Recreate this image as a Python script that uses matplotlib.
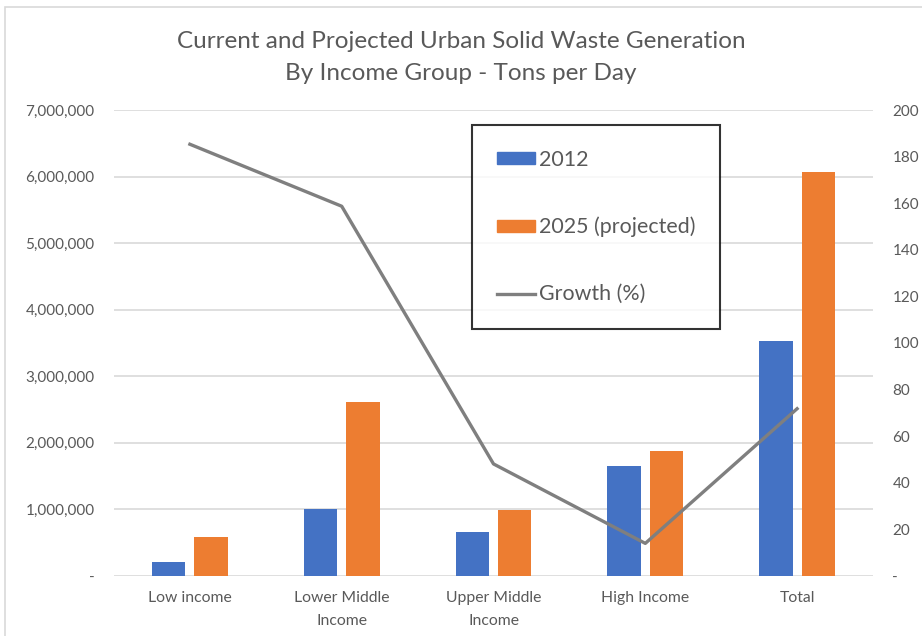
import matplotlib
matplotlib.use("Agg")
import matplotlib.pyplot as plt
import numpy as np
from matplotlib.patches import Rectangle, Patch
from matplotlib.lines import Line2D
from matplotlib.ticker import FuncFormatter

plt.rcParams['font.family'] = ['Lato', 'DejaVu Sans']

# data
categories = ["Low income", "Lower Middle\nIncome", "Upper Middle\nIncome", "High Income", "Total"]
tons_2012 = [204802, 1012321, 665000, 1650000, 3532252]
tons_2025 = [584272, 2618804, 985000, 1880000, 6069703]
growth_pct = [185.3, 158.7, 48.1, 14.0, 71.8]

blue = "#4472C4"
orange = "#ED7D31"
grey = "#7F7F7F"
text_grey = "#595959"
grid_grey = "#D9D9D9"

W, H = 922, 636
fig = plt.figure(figsize=(W / 100, H / 100), dpi=100)

# chart border
fig.patches.append(Rectangle((5 / W, -0.01), 1.02, 1 - 7 / H + 0.01, transform=fig.transFigure,
                             fill=False, edgecolor=grid_grey, linewidth=1.2, zorder=0))

left, right = 114 / W, 873 / W
bottom, top = 1 - 576 / H, 1 - 110 / H
ax = fig.add_axes([left, bottom, right - left, top - bottom])
ax2 = ax.twinx()

x = np.arange(len(categories))
bw = 0.22
ax.bar(x - 0.14, tons_2012, bw, color=blue, zorder=2)
ax.bar(x + 0.14, tons_2025, bw, color=orange, zorder=2)
ax2.plot(x, growth_pct, color=grey, linewidth=2.4, solid_joinstyle='round', zorder=3)

ax.set_xlim(-0.5, len(categories) - 0.5)
ax.set_ylim(0, 7000000)
ax2.set_ylim(0, 200)
ax.set_yticks(np.arange(0, 7000001, 1000000))
ax2.set_yticks(np.arange(0, 201, 20))


def acct(v, pos):
    return "-" if v == 0 else f"{v:,.0f}"


ax.yaxis.set_major_formatter(FuncFormatter(acct))
ax2.yaxis.set_major_formatter(FuncFormatter(acct))

ax.set_xticks(x)
ax.set_xticklabels(categories, linespacing=1.75)
ax.tick_params(axis='x', length=0, pad=11, labelsize=11.3, labelcolor=text_grey)
ax.tick_params(axis='y', length=0, pad=14, labelsize=11, labelcolor=text_grey)
ax2.tick_params(axis='y', length=0, pad=14, labelsize=11, labelcolor=text_grey)

ax.yaxis.grid(True, color=grid_grey, linewidth=1.2, zorder=0)
ax.set_axisbelow(True)
for a in (ax, ax2):
    for s in a.spines.values():
        s.set_visible(False)
    a.patch.set_visible(False)

fig.text(0.5, 1 - 42 / H, "Current and Projected Urban Solid Waste Generation",
         ha='center', va='center', fontsize=17.5, color=text_grey)
fig.text(0.5, 1 - 73 / H, "By Income Group - Tons per Day",
         ha='center', va='center', fontsize=17.5, color=text_grey)

handles = [Patch(color=blue), Patch(color=orange), Line2D([], [], color=grey, linewidth=2.4)]
labels = ["2012", "2025 (projected)", "Growth (%)"]
leg = fig.legend(handles, labels, loc='upper left', bbox_to_anchor=(472 / W, 1 - 125 / H),
                 fontsize=15.4, labelcolor=text_grey, frameon=True, fancybox=False,
                 edgecolor='black', borderpad=1.15, labelspacing=2.2, handlelength=1.78,
                 handleheight=0.47, handletextpad=0.22, borderaxespad=0)
leg.get_frame().set_linewidth(1.5)
leg.set_zorder(5)

fig.savefig("out.png", dpi=100)
